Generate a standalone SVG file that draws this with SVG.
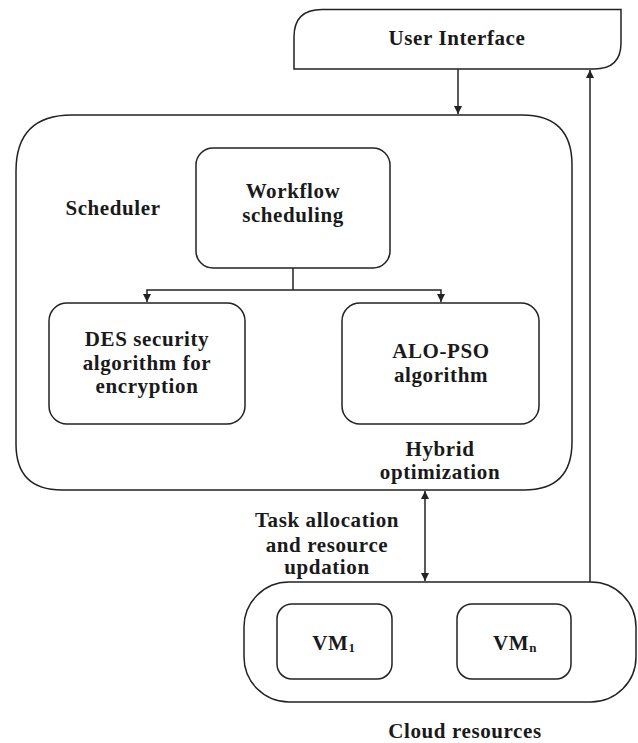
<svg xmlns="http://www.w3.org/2000/svg" width="638" height="743" viewBox="0 0 638 743">
<style>
.b{fill:#fff;stroke:#222;stroke-width:1.5}
.t{font-family:"Liberation Serif","Times New Roman",serif;font-weight:bold;font-size:21px;letter-spacing:0.6px;fill:#1a1a1a;text-anchor:middle}
.c{fill:none;stroke:#222;stroke-width:1.5}
</style>
<defs>
<marker id="ah" viewBox="0 0 10 10" refX="10" refY="5" markerWidth="8" markerHeight="8" markerUnits="userSpaceOnUse" orient="auto-start-reverse">
<path d="M0,0 L10,5 L0,10 z" fill="#222"/>
</marker>
</defs>
<rect width="638" height="743" fill="#fff"/>
<g id="scheduler">
<path class="b" d="M72,115 L522,115 Q572,115 572,165 L572,442 Q572,490 524,490 L62,490 Q16,490 16,444 L16,171 Q16,115 72,115 Z"/>
<text class="t" x="113" y="215">Scheduler</text>
<text class="t" x="440" y="456">Hybrid</text>
<text class="t" x="440" y="479">optimization</text>
</g>
<g id="user-interface">
<path class="b" d="M294,69 L294,37 Q294,9.5 322,9.5 L621,9.5 L621,43 Q621,69 594,69 Z"/>
<text class="t" x="457" y="45">User Interface</text>
</g>
<g id="workflow">
<rect class="b" x="196" y="148" width="194" height="120" rx="17"/>
<text class="t" x="293" y="198">Workflow</text>
<text class="t" x="293" y="222">scheduling</text>
</g>
<g id="des">
<rect class="b" x="49" y="303" width="196" height="121" rx="18"/>
<text class="t" x="147" y="346">DES security</text>
<text class="t" x="147" y="370">algorithm for</text>
<text class="t" x="147" y="393">encryption</text>
</g>
<g id="alo-pso">
<rect class="b" x="342" y="303" width="197" height="121" rx="18"/>
<text class="t" x="441" y="358">ALO-PSO</text>
<text class="t" x="441" y="382">algorithm</text>
</g>
<g id="cloud">
<rect class="b" x="244" y="582" width="392" height="120" rx="45"/>
<text class="t" x="465" y="738">Cloud resources</text>
</g>
<g id="vm1">
<rect class="b" x="277" y="604" width="115" height="75" rx="15"/>
<text class="t" x="334" y="650">VM<tspan font-size="13" dy="2">1</tspan></text>
</g>
<g id="vmn">
<rect class="b" x="457" y="604" width="114" height="75" rx="15"/>
<text class="t" x="515" y="650">VM<tspan font-size="13" dy="2">n</tspan></text>
</g>
<g id="task-label">
<text class="t" x="327" y="527">Task allocation</text>
<text class="t" x="327" y="552">and resource</text>
<text class="t" x="327" y="574">updation</text>
</g>
<g id="connectors">
<line class="c" x1="458" y1="69" x2="458" y2="114" marker-end="url(#ah)"/>
<line class="c" x1="590" y1="582" x2="590" y2="70" marker-end="url(#ah)"/>
<polyline class="c" points="293,268 293,290"/>
<polyline class="c" points="147,302 147,290 441,290 441,302" marker-start="url(#ah)" marker-end="url(#ah)"/>
<line class="c" x1="425" y1="491" x2="425" y2="581" marker-start="url(#ah)" marker-end="url(#ah)"/>
</g>
</svg>
